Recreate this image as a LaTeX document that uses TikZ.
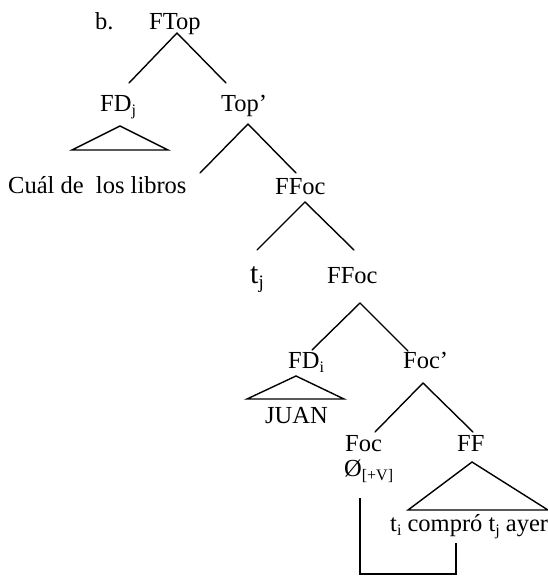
\documentclass[tikz,border=0pt]{standalone}
\usepackage{fontspec}
\setmainfont{Liberation Serif}
\newcommand\lowsub[1]{\raisebox{-4.5pt}{\fontsize{16}{16}\selectfont #1}}
\newcommand\bigsub[1]{\raisebox{-5.5pt}{\fontsize{19}{19}\selectfont #1}}
\begin{document}
\begin{tikzpicture}[x=1pt,y=-1pt,
  lbl/.style={anchor=base west, inner sep=0pt, font=\fontsize{24.5}{27}\selectfont},
  branch/.style={line width=1.4pt, line cap=round},
  roof/.style={line width=1.4pt, line join=miter}]
\useasboundingbox (0,0) rectangle (548,576);

% labels
\node[lbl] (ex)    at (95,29)  {b.};
\node[lbl] (ftop)  at (149,29) {FTop};
\node[lbl] (fdj)   at (100,111) {FD\lowsub{j}};
\node[lbl] (topb)  at (221,111) {Top’};
\node[lbl] (cual)  at (8,193)  {Cuál de\ \ los libros};
\node[lbl] (ffoc)  at (275,194) {FFoc};
\node[lbl, font=\fontsize{30}{32}\selectfont] (tj) at (250,283) {t\bigsub{j}};
\node[lbl] (ffocb) at (327,283) {FFoc};
\node[lbl] (fdi)   at (288,368) {FD\lowsub{i}};
\node[lbl] (focb)  at (403,368) {Foc’};
\node[lbl] (juan)  at (265,423) {JUAN};
\node[lbl] (foc)   at (345,451) {Foc};
\node[lbl] (ff)    at (457,451) {FF};
\node[lbl] (empty) at (344,476) {Ø\lowsub{[+V]}};
\node[lbl] (ip)    at (390,531) {t\lowsub{i} compró t\lowsub{j} ayer};

% branch end points
\coordinate (a1) at (177,33);  \coordinate (l1) at (129,83);  \coordinate (r1) at (226,83);
\coordinate (a2) at (248,124); \coordinate (l2) at (200,173); \coordinate (r2) at (296,173);
\coordinate (a3) at (305,202); \coordinate (l3) at (257,250); \coordinate (r3) at (354,250);
\coordinate (a4) at (360,303); \coordinate (l4) at (312,350); \coordinate (r4) at (408,351);
\coordinate (a5) at (423,383); \coordinate (l5) at (375,432); \coordinate (r5) at (473,432);

\foreach \n in {1,...,5} {
  \draw[branch] (l\n) -- (a\n) -- (r\n);
}

% roofs
\draw[roof] (72,150) -- (120,126) -- (168,150) -- cycle;
\draw[roof] (247,399) -- (296,376) -- (344,399) -- cycle;
\draw[roof] (408,510) -- (472,462) -- (548,510) -- cycle;

% movement bracket
\coordinate (m1) at (360,498);
\coordinate (m2) at (456,543);
\draw[line width=1.4pt] (m1) -- (360,574) -- (456,574) -- (m2);
\end{tikzpicture}
\end{document}
